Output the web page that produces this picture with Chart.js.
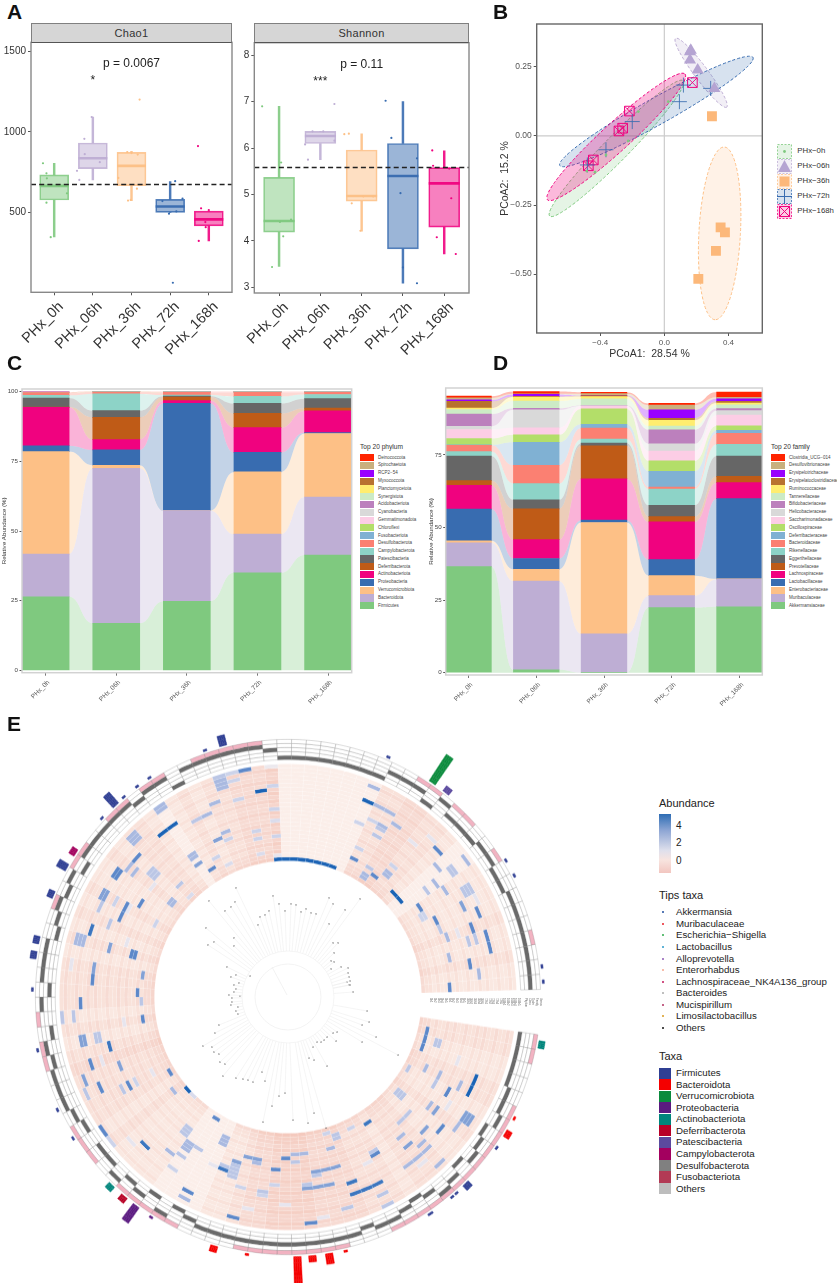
<!DOCTYPE html>
<html>
<head>
<meta charset="utf-8">
<title>PHx microbiome</title>
<script src="https://cdn.jsdelivr.net/npm/chart.js@4"></script>
<style>
  html, body { margin: 0; padding: 0; background: #fff; }
  #stage { position: relative; width: 837px; height: 1283px; overflow: hidden; background: #fff;
           font-family: "Liberation Sans", Arial, sans-serif; color: #222; }
  #stage canvas { position: absolute; }
  .t { position: absolute; white-space: nowrap; line-height: 1; }
  .letter { font-weight: bold; font-size: 21px; color: #111; }
  .strip { position: absolute; background: #d6d6d6; border: 1.5px solid #808080; border-bottom: 1.5px solid #555;
           box-sizing: border-box; text-align: center; font-size: 11px; color: #333; line-height: 19px; letter-spacing: .3px; }
  .box { position: absolute; }
</style>
</head>
<body>
<div id="stage"></div>
<script>
// ---------- panel A ----------
const groupLabels = ['PHx_0h', 'PHx_06h', 'PHx_36h', 'PHx_72h', 'PHx_168h'];
const groupPositions = [1, 2, 3, 4, 5];
const groupColors = ['#7FC97F', '#BEAED4', '#FDC086', '#386CB0', '#F0027F'];

const chaoLow = [351, 703, 575, 502, 326];
const chaoQ1 = [579, 773, 668, 502, 419];
const chaoMedian = [666, 837, 790, 539, 459];
const chaoQ3 = [734, 931, 873, 583, 510];
const chaoHigh = [806, 1092, 880, 692, 510];
const chaoPointX = [.71, .80, .81, .80, .91, 1.33, 1.11, 1.97, 1.78, 1.79, 2.18, 1.59, 1.65, 3.21, 2.89, 3.0, 3.16, 2.66, 3.14, 2.91, 2.98, 4.13, 3.80, 4.32, 4.16, 3.97, 4.07, 4.72, 4.80, 5.0, 4.91, 4.92, 4.74];
const chaoPointY = [806, 744, 713, 562, 349, 620, 666, 1092, 957, 862, 813, 759, 703, 1200, 875, 869, 860, 715, 649, 575, 579, 695, 572, 587, 508, 494, 67, 912, 527, 517, 442, 411, 326];
const chaoMean = 674;
const chaoTicks = [500, 1000, 1500];

const shannonLow = [3.45, 5.75, 4.21, 3.09, 3.72];
const shannonQ1 = [4.19, 6.10, 4.86, 3.83, 4.30];
const shannonMedian = [4.43, 6.26, 4.97, 5.40, 5.24];
const shannonQ3 = [5.37, 6.36, 5.96, 6.10, 5.58];
const shannonHigh = [6.90, 6.36, 6.31, 7.0, 5.94];
const shannonPointX = [.59, 1.05, .83, 1.10, 1.02, 1.29, 2.34, 1.81, 2.07, 1.63, 2.34, 1.70, 2.58, 2.69, 2.76, 2.97, 3.04, 3.28, 3.58, 3.72, 4.34, 3.94, 4.0, 4.34, 4.71, 4.73, 5.12, 5.17, 4.82, 5.28];
const shannonPointY = [6.90, 5.69, 3.44, 4.10, 4.41, 4.46, 6.95, 6.36, 6.36, 6.08, 6.16, 5.75, 6.30, 6.31, 4.81, 4.22, 4.96, 4.96, 7.02, 6.22, 5.78, 5.03, 3.43, 3.09, 5.95, 5.62, 5.56, 4.92, 4.08, 3.72];
const shannonMean = 5.58;
const shannonTicks = [3, 4, 5, 6, 7, 8];

// ---------- panel B ----------
const pcoaGroups = ['PHx\u22120h', 'PHx\u221206h', 'PHx\u221236h', 'PHx\u221272h', 'PHx\u2212168h'];
const pcoa0hX = [-.162, -.225, -.364, -.432, -.484, .025];
const pcoa0hY = [.088, -.018, -.069, -.131, -.127, .124];
const pcoa06hX = [.16, .16, .208, .312, .165];
const pcoa06hY = [.305, .275, .239, .172, .31];
const pcoa36hX = [.297, .351, .378, .322, .212];
const pcoa36hY = [.071, -.331, -.349, -.416, -.517];
const pcoa72hX = [.094, .119, .289, -.2, -.364, -.48];
const pcoa72hY = [.124, .184, .172, .052, -.05, -.105];
const pcoa168hX = [.175, -.218, -.26, -.283, -.443, -.474];
const pcoa168hY = [.193, .09, .028, .018, -.087, -.108];
// major axis ends of each confidence ellipse, and minor/major ratio
const ellipseX1 = [-.715, .07, .374, -.652, -.729];
const ellipseY1 = [-.29, .353, -.04, -.107, -.231];
const ellipseX2 = [.118, .389, .316, .553, .129];
const ellipseY2 = [.2, .104, -.665, .284, .224];
const ellipseRatio = [.13, .16, .24, .12, .15];

// ---------- panel C ----------
const phylumNames = ['Firmicutes', 'Bacteroidota', 'Verrucomicrobiota', 'Proteobacteria', 'Actinobacteriota', 'Deferribacterota', 'Patescibacteria', 'Campylobacterota', 'Desulfobacterota', 'Fusobacteriota', 'Chloroflexi', 'Gemmatimonadota', 'Cyanobacteria', 'Acidobacteriota', 'Synergistota', 'Planctomycetota', 'Myxococcota', 'RCP2\u221254', 'Spirochaetota', 'Deinococcota'];
const stackColors = ['#7FC97F', '#BEAED4', '#FDC086', '#386CB0', '#F0027F', '#BF5B17', '#666666', '#8DD3C7', '#FB8072', '#80B1D3', '#B3DE69', '#FCCDE5', '#D9D9D9', '#BC80BD', '#CCEBC5', '#FFED6F', '#B8722F', '#9900FF', '#C9B07E', '#FF2400'];
const phylum0h = [26.4, 15.3, 36.8, 2.1, 13.8, .1, 3.2, 1.0, 1.0, .02, .02, .02, .01, .01, .01, .01, .01, .01, .01, .01];
const phylum06h = [16.9, 55.6, 1.1, 5.5, 3.7, 8.0, 2.4, 6.0, .7, .02, .02, .01, .01, .01, .01, .01, .01, .01, .01, .01];
const phylum36h = [24.8, 32.5, 0, 38.5, 1.0, 1.3, .3, .4, 1.0, .02, .02, .02, .01, .01, .01, .01, .01, .01, .01, .01];
const phylum72h = [35, 13.9, 22.3, 7.0, 8.9, 5.1, 3.6, 2.5, 1.5, .02, .02, .02, .01, .01, .01, .01, .01, .01, .01, .01];
const phylum168h = [41.4, 20.8, 22.8, .3, 7.8, 1.0, 3.4, 1.5, .8, .02, .02, .02, .01, .01, .01, .01, .01, .01, .01, .01];
const phylumColumns = [phylum0h, phylum06h, phylum36h, phylum72h, phylum168h];

// ---------- panel D ----------
const familyNames = ['Akkermansiaceae', 'Muribaculaceae', 'Enterobacteriaceae', 'Lactobacillaceae', 'Lachnospiraceae', 'Prevotellaceae', 'Eggerthellaceae', 'Rikenellaceae', 'Bacteroidaceae', 'Deferribacteraceae', 'Oscillospiraceae', 'Saccharimonadaceae', 'Helicobacteraceae', 'Bifidobacteriaceae', 'Tannerellaceae', 'Ruminococcaceae', 'Erysipelatoclostridiaceae', 'Erysipelotrichaceae', 'Desulfovibrionaceae', 'Clostridia_UCG\u2212014'];
const family0h = [36.5, 8.2, .7, 10.9, 8.2, 1.6, 8.5, 1.5, 2.2, .1, 2.2, 3.1, 1.1, 4.2, 1.6, .5, 2.3, .5, .7, .6];
const family06h = [1.0, 30.5, 4.1, 3.7, 6.5, 10.6, 3.1, 5.6, 6.3, 7.9, 2.6, 2.4, 6.2, .5, 2.5, 1.4, .2, .7, .2, .8];
const family36h = [0, 13.4, 38.3, .8, 14.2, 11.4, .9, 1.4, 3.8, 1.3, 5.3, 1.0, .1, .05, 2.3, .8, .3, .1, .6, .5];
const family72h = [22.4, 4.1, 6.9, 5.5, 13, 1.8, 3.9, 5.6, .7, 5.4, 3.6, 3.4, 2.5, 4.8, 1.3, 2.0, .7, 2.9, 1.6, .6];
const family168h = [22.7, 9.5, .1, 27.6, 5.5, 2.2, 7.0, 4.0, 3.8, 1.0, 1.6, 3.7, 1.5, .7, 1.3, .6, .6, .9, .5, 1.8];
const familyColumns = [family0h, family06h, family36h, family72h, family168h];

// ---------- panel E ----------
const tipsNames = ['Akkermansia', 'Muribaculaceae', 'Escherichia\u2212Shigella', 'Lactobacillus', 'Alloprevotella', 'Enterorhabdus', 'Lachnospiraceae_NK4A136_group', 'Bacteroides', 'Mucispirillum', 'Limosilactobacillus', 'Others'];
const tipsColors = ['#1F4E9E', '#E8202A', '#2EAA4A', '#2B9AC9', '#8E5BB5', '#F5A78F', '#C2185B', '#AAAAAA', '#B03060', '#D99A1E', '#111111'];
const taxaNames = ['Firmicutes', 'Bacteroidota', 'Verrucomicrobiota', 'Proteobacteria', 'Actinobacteriota', 'Deferribacterota', 'Patescibacteria', 'Campylobacterota', 'Desulfobacterota', 'Fusobacteriota', 'Others'];
const taxaColors = ['#2F3F93', '#F40000', '#0A8A3C', '#5A1A80', '#00857C', '#B80027', '#5B4A9E', '#A3005F', '#808080', '#B23A55', '#BDBDBD'];
const abundanceTicks = ['4', '2', '0'];

const tipCount = 104;
const heatRows = 25;
// pale pink per tip, digits read from the ring, starting below the gap and going clockwise
const tipShade = '332233223223' + '3323334444555' + '544322' + '1111222' + '2323333432323' + '3332323232' + '2323321' + '232334445' + '11111111' + '3344332' + '112222322322';
const rowShade = [2, 1, 1, 0, 1, 0, 0, 1, 0, 1, 0, 0, 1, 0, 0, 1, 0, 1, 0, 0, 1, 0, 0, 1, 0];
// [clock angle of the tip, row from the inside, abundance level, tips wide, rows deep]
const heatCells = [
  [-3, 0, 5, 8], [351.7, 18, 5], [23.4, 23, 3], [23.2, 19, 5], [27, 19, 3], [30, 19, 3], [23.3, 13, 2], [26.9, 15, 2], [30, 15, 3], [30, 14, 2.5],
  [33.7, 17, 3], [30.3, 12, 2.5], [26.9, 7, 2], [26.7, 4, 4], [33.8, 1, 3, 1, 2], [37.3, 3, 4], [33.8, 4, 2.5], [40.7, 5, 3, 1, 2], [40.4, 8, 2],
  [46, 3, 5, 2], [54.8, 6, 4], [58.5, 5, 2, 1, 2], [61.8, 8, 4], [51.4, 13, 3], [51.2, 16, 3], [54.7, 14, 3], [54.6, 10, 2.5], [47.5, 19, 4],
  [51.3, 18, 2.5, 1, 2], [51.3, 23, 3], [58.4, 18, 2.5, 1, 3], [61.8, 16, 3.5], [65.4, 19, 4], [69, 16, 4], [69, 9, 3], [65, 8, 2.5], [73, 19, 4, 2],
  [79.3, 13, 4], [75.8, 8, 3], [82.2, 15, 3], [72.5, 14, 2.5], [72, 16, 2.5], [86, 7, 4],
  [355, 24, .5], [355, 19, 2], [355, 13, 2], [355, 10, 1.5], [355, 6, 2], [355, 1, 1], [348.3, 8, 2], [348.3, 6, 2], [349, 2, 1.5],
  [321.7, 18, 5, 2], [316.7, 21, 3, 1, 3], [313.2, 18, 4], [306, 19, 4, 1, 2], [309.7, 18, 3], [309.6, 16, 3], [313.3, 11, 2.5, 1, 3], [302.8, 10, 4],
  [309.8, 3, 3, 1, 2], [316.5, 5, 2.5], [316.7, 1, 1.5], [299, 19, 3.5, 1, 2], [299.4, 16, 2], [296, 19, 2.5], [294, 13, 4, 2], [292.4, 15, 2.5],
  [289, 19, 4.5], [285.6, 20, 3, 1, 3], [285.4, 13, 3.5], [284, 6, 4, 1, 2], [278.6, 16, 3.5], [278.7, 3, 3.5], [299.7, 4, 2],
  [342, 24, 2.5], [341, 21, 3, 1, 3], [345, 24, 2], [348.3, 24, 4], [345, 22, 2], [337.7, 18, 3], [334, 16, 3], [330.6, 16, 2.5], [327, 23, 3, 1, 2], [345, 17, 2],
  [337.6, 10, 3], [337.5, 8, 2], [334, 9, 3.5], [327, 8, 3, 1, 2], [327, 6, 3.5], [330.7, 5, 2], [330.5, 3, 4], [334, 2, 1.5],
  [271.7, 4, 4], [268.1, 19, 4], [267, 3, 2.5], [261.5, 3, 4], [264.7, 24, 2.5, 1, 1], [264.7, 21, 2.5], [275, 16, 4], [257.6, 19, 3.5, 1, 2], [257.8, 15, 2.5, 1, 2],
  [254.4, 13, 4.5], [251, 19, 4], [247.5, 12, 3.5], [247.5, 22, 3.5], [244, 19, 4], [244, 23, 2.5], [240.5, 12, 4], [237.2, 1, 4], [230, 3, 3], [226.5, 0, 5],
  [223, 0, 1.5], [233.4, 24, 4], [230, 24, 2], [240.7, 10, 2], [240.6, 14, 2.5], [212.7, 1, 4], [219.4, 7, 2.5, 1, 3], [205.7, 4, 3, 1, 3], [216, 10, 3, 1, 3],
  [212.7, 10, 2.5], [223, 18, 4.5], [219.5, 15, 3], [216, 14, 2.5], [216, 18, 2], [202, 12, 4.5], [198.4, 10, 2.5, 1, 4], [198.5, 9, 3.5], [202, 11, 2.5],
  [209, 21, 4], [209, 23, 3], [195, 23, 4], [195, 15, 2],
  [103.2, 2, 4, 3], [106.8, 5, 2.5, 1, 2], [113.8, 18, 5, 2], [121, 1, 2.5], [117.4, 5, 3], [117.4, 9, 3], [121, 9, 2.5], [121, 13, 4], [117.2, 15, 3],
  [131.5, 2, 2.5, 1, 3], [128, 11, 3], [128, 13, 3.5], [124, 20, 3.5, 1, 3], [127.3, 20, 3], [131.5, 17, 4], [135, 14, 3.5], [133, 8, 2.5, 2], [145.6, 3, 4.5],
  [142, 14, 3.5], [138, 16, 3], [136.8, 18, 3, 3], [149, 11, 4], [149, 10, 2.5], [142, 11, 3], [138.3, 23, 3], [159.7, 2, 2.5, 1, 2], [163.4, 5, 3], [152.5, 2, 2], [163.4, 1, 2],
  [189.7, 7, 3.5, 2], [191.7, 8, 3], [184.5, 9, 4], [181, 6, 4], [177.2, 5, 3], [173.9, 5, 3], [177.4, 7, 2.5], [165, 10, 3.5, 3], [168.5, 14, 3.5, 3], [159.6, 15, 4.5],
  [154.7, 18, 4.5, 3], [152.7, 21, 2.5], [152.8, 24, 2.5], [173.6, 23, 4], [163.3, 21, 2.5], [188.3, 15, 2.5], [188.3, 16, 2], [184.5, 13, 2], [173.8, 13, 2.5], [170.3, 11, 2.5],
  [205, 12, 1], [290, 9, 1], [300, 12, 1], [260, 8, 1], [250, 16, 1], [240, 5, 1], [228, 20, 1], [110, 12, 1], [125, 15, 1], [140, 20, 1], [155, 12, 1], [170, 22, 1], [180, 18, 1], [190, 20, 1], [70, 12, 1], [62, 20, 1], [44, 20, 1], [38, 16, 1], [310, 10, 1], [280, 22, 1]
];
// dark cell of the taxa grid: its row from the inside, one digit per tip
const gridRows = '0000112012' + '0231012' + '2122222' + '2222222' + '1030213114' + '1233323143' + '1333123231' + '3333323303' + '333332' + '00000000' + '2220311122' + '112222222';
// clock angle ranges of the pink cells in the outer grid row
const gridPink = [[98.5, 103], [116, 120], [124, 128], [129, 137], [140, 144], [146, 156], [168, 192], [206, 222], [231, 238], [255, 260], [263, 267], [290, 294], [301, 305], [315, 319], [325, 329], [338, 346], [349, 352], [32, 37], [42, 47], [54, 58], [74, 78]];
// outer taxa bars: [clock angle, length, index in taxaNames]
const taxaBars = [
  [33.9, 30, 2], [37.4, 6, 6], [23, 1, 0], [344.8, 7, 0], [316.7, 13, 0], [302.8, 6, 7], [299.3, 8, 0], [292.4, 6, 0], [282, 5, 0], [278.6, 5, 0],
  [341, 1, 0], [327, 1, 0], [323.7, 1, 0], [320, 1, 0], [313, 1, 0], [271.5, 2, 0], [257.8, 2, 0], [243.9, 2, 0], [237, 2, 0], [223, 5, 4], [219.5, 6, 5], [216, 18, 3], [212.3, 1, 3],
  [177.3, 26, 1], [173.8, 6, 1], [170, 8, 1], [166.7, 2, 1], [196, 4, 1], [189, 1, 1], [135, 5, 0], [138.5, 1, 0], [145.5, 2, 0], [121, 5, 1], [117.7, 1, 1], [125, 2, 0],
  [99.8, 6, 4], [83, 2, 0], [86.4, 2, 0], [62, 1, 0], [58.3, 1, 0], [146, 1, 0], [140, 1, 0]
];
// tree tips as read from the centre of the ring
const treeTipX = [-52, -79, -53, -57, -63, -82, -74, -80, -54, -54, -61, -57, -52, -38, -49, -54, -52, -54, -59, -56, -48, -56, -57, -50, -52, -50, -69, -73, -85, -76, -74, -69, -68, -63, -65, -52, -45, -40, -35, -26, -23, -15, -28, -23, -19, -30, -9, -3, 3, 8, 13, 18, 23, 28, 41, 45, 57, 41, 45, 50, 46, 43, 46, 43, 53, 60, 60, 61, 59, 61, 62, 62, 65, 79, 81, 74, 88, 74, 110, 49, 45, 39, 36, 33, 29, 48, 25, 21, 26, 39, -9, -3, -16, -25, 5, 20, 26, 38, 72];
const treeTipY = [109, 96, 95, 90, 86, 69, 55, 52, 59, 51, 30, 20, 22, 21, 14, 12, 8, 5, 2, -1, 1, -5, -8, -10, -14, -17, -28, -36, -49, -50, -55, -57, -65, -67, -79, -81, -82, -83, -85, -75, -84, 101, 80, 82, 86, 72, 93, 86, 93, 92, 85, 88, 84, 83, 99, 93, 87, 73, 54, 54, 44, 36, 35, 28, 30, 29, 24, 20, 15, 12, 16, 12, 5, -14, -25, -28, -40, -45, -58, -35, -36, -40, -43, -45, -45, -44, -50, -61, -63, -69, -99, -96, -109, -125, -123, -126, -116, -131, 98];
const sampleNames = ['0h1', '0h2', '0h3', '0h4', '0h5', '6h1', '6h2', '6h3', '6h4', '6h5', '36h1', '36h2', '36h3', '36h4', '36h5', '72h1', '72h2', '72h3', '72h4', '72h5', '168h1', '168h2', '168h3', '168h4', '168h5', 'Phylum', 'Class', 'Order', 'Family', 'Genus'];

// ---------- helpers ----------
Chart.defaults.font.family = '"Liberation Sans", Arial, sans-serif';
Chart.defaults.animation = false;
Chart.defaults.responsive = false;
Chart.defaults.plugins.legend.display = false;
Chart.defaults.plugins.tooltip.enabled = false;

const stage = document.getElementById('stage');

function addCanvas(left, top, width, height) {
    const c = document.createElement('canvas');
    c.width = width;
    c.height = height;
    c.style.left = left + 'px';
    c.style.top = top + 'px';
    c.style.width = width + 'px';
    c.style.height = height + 'px';
    stage.appendChild(c);
    return c;
}

function addText(text, left, top, size, extra) {
    const d = document.createElement('div');
    d.className = 't';
    d.textContent = text;
    d.style.left = left + 'px';
    d.style.top = top + 'px';
    d.style.fontSize = size + 'px';
    if (extra) Object.assign(d.style, extra);
    stage.appendChild(d);
    return d;
}

function addBox(left, top, width, height, background) {
    const d = document.createElement('div');
    d.className = 'box';
    d.style.left = left + 'px';
    d.style.top = top + 'px';
    d.style.width = width + 'px';
    d.style.height = height + 'px';
    d.style.background = background;
    stage.appendChild(d);
    return d;
}

function rgba(hex, a) {
    const n = parseInt(hex.slice(1), 16);
    return `rgba(${n >> 16},${(n >> 8) & 255},${n & 255},${a})`;
}

function mix(a, b, t) {
    const x = parseInt(a.slice(1), 16), y = parseInt(b.slice(1), 16);
    const c = s => Math.round(((x >> s) & 255) * (1 - t) + ((y >> s) & 255) * t);
    return `rgb(${c(16)},${c(8)},${c(0)})`;
}

function fixedY(width, ticks) {
    return {
        afterFit: s => { s.width = width; s.paddingTop = 0; s.paddingBottom = 0; },
        afterBuildTicks: s => { s.ticks = ticks.map(v => ({ value: v })); }
    };
}

function fixedX(height, ticks) {
    return {
        afterFit: s => { s.height = height; s.paddingLeft = 0; s.paddingRight = 0; },
        afterBuildTicks: s => { s.ticks = ticks.map(v => ({ value: v })); }
    };
}

function framePlugin(color, width) {
    return {
        id: 'frame',
        afterDatasetsDraw(chart) {
            const a = chart.chartArea, ctx = chart.ctx;
            ctx.save();
            ctx.strokeStyle = color;
            ctx.lineWidth = width;
            ctx.strokeRect(a.left, a.top, a.right - a.left, a.bottom - a.top);
            ctx.restore();
        }
    };
}

function textPlugin(marks) {
    return {
        id: 'marks',
        afterDatasetsDraw(chart) {
            const ctx = chart.ctx;
            ctx.save();
            ctx.fillStyle = '#222';
            ctx.textAlign = 'center';
            ctx.textBaseline = 'middle';
            marks.forEach(m => {
                ctx.font = m.font + ' "Liberation Sans", Arial, sans-serif';
                ctx.fillText(m.text, chart.scales.x.getPixelForValue(m.x), chart.scales.y.getPixelForValue(m.y));
            });
            ctx.restore();
        }
    };
}

// ---------- boxplots ----------
function boxChart(left, top, width, height, plot, data) {
    const c = addCanvas(left, top, width, height);
    const pointColor = data.px.map(x => groupColors[Math.min(4, Math.max(0, Math.round(x) - 1))]);
    const xy = (xs, ys) => xs.map((x, i) => ({ x: x, y: ys[i] }));
    new Chart(c, {
        type: 'scatter',
        data: {
            datasets: [
                { type: 'bar', grouped: false, barThickness: 1.8, data: groupPositions.map((x, i) => ({ x: x, y: [data.q3[i], data.high[i]] })), backgroundColor: groupColors.map(k => rgba(k, .9)), order: 5 },
                { type: 'bar', grouped: false, barThickness: 1.8, data: groupPositions.map((x, i) => ({ x: x, y: [data.low[i], data.q1[i]] })), backgroundColor: groupColors.map(k => rgba(k, .9)), order: 5 },
                { type: 'bar', grouped: false, barThickness: plot.boxWidth, data: groupPositions.map((x, i) => ({ x: x, y: [data.q1[i], data.q3[i]] })), backgroundColor: groupColors.map(k => rgba(k, .5)), borderColor: groupColors.map(k => rgba(k, .85)), borderWidth: 1, borderSkipped: false, order: 4 },
                { data: xy(groupPositions, data.median), showLine: false, pointStyle: 'line', pointRadius: plot.boxWidth / 2, pointBorderWidth: 2.6, pointBorderColor: groupColors.map(k => rgba(k, .95)), order: 3 },
                { data: xy(data.px, data.py), showLine: false, pointRadius: 1.1, pointBorderWidth: 0, pointBackgroundColor: pointColor, order: 2 },
                { data: [{ x: .4, y: data.mean }, { x: 5.6, y: data.mean }], showLine: true, pointRadius: 0, borderColor: '#222', borderWidth: 1.5, borderDash: [5, 3.2], order: 1 }
            ]
        },
        options: {
            layout: { padding: plot.padding, autoPadding: false },
            scales: {
                x: Object.assign({
                    type: 'linear', offset: false, min: .4, max: 5.6, grid: { offset: false, drawOnChartArea: false, tickLength: 3, color: '#555' }, border: { display: false },
                    ticks: { autoSkip: false, minRotation: 45, maxRotation: 45, padding: 3, labelOffset: 7, color: '#333', font: { size: 14.5 }, callback: v => groupLabels[v - 1] }
                }, fixedX(plot.xHeight, groupPositions)),
                y: Object.assign({
                    min: plot.yMin, max: plot.yMax, grid: { drawOnChartArea: false, tickLength: 3, color: '#555' }, border: { display: false },
                    ticks: { color: '#333', padding: 2, font: { size: 10 }, callback: v => String(v) }
                }, fixedY(plot.yWidth, plot.ticks))
            }
        },
        plugins: [framePlugin('#888', 1.4), textPlugin(plot.marks)]
    });
}

boxChart(0, 30, 238, 340, { padding: { top: 12.3, right: 6 }, boxWidth: 29, xHeight: 77.7, yWidth: 31, yMin: 8, yMax: 1554, ticks: chaoTicks,
    marks: [{ x: 3, y: 1423, text: 'p = 0.0067', font: '12px' }, { x: 2, y: 1318, text: '*', font: '12px' }] },
    { low: chaoLow, q1: chaoQ1, median: chaoMedian, q3: chaoQ3, high: chaoHigh, px: chaoPointX, py: chaoPointY, mean: chaoMean });
boxChart(232, 30, 243, 340, { padding: { top: 12.7, right: 6 }, boxWidth: 31, xHeight: 77, yWidth: 22.3, yMin: 2.88, yMax: 8.27, ticks: shannonTicks,
    marks: [{ x: 3, y: 7.79, text: 'p = 0.11', font: '12px' }, { x: 2, y: 7.44, text: '***', font: '12px' }] },
    { low: shannonLow, q1: shannonQ1, median: shannonMedian, q3: shannonQ3, high: shannonHigh, px: shannonPointX, py: shannonPointY, mean: shannonMean });

function addStrip(text, left, top, width, height) {
    const d = addBox(left, top, width, height, '#d6d6d6');
    d.className = 'strip';
    d.textContent = text;
}
addStrip('Chao1', 31, 23, 201, 20);
addStrip('Shannon', 254, 23, 215, 20);

// ---------- PCoA ----------
const ellipsePlugin = {
    id: 'ellipses',
    beforeDatasetsDraw(chart) {
        const { x, y } = chart.scales, ctx = chart.ctx;
        ctx.save();
        ctx.strokeStyle = '#ccc';
        ctx.lineWidth = 1.2;
        ctx.beginPath();
        ctx.moveTo(x.getPixelForValue(0), chart.chartArea.top);
        ctx.lineTo(x.getPixelForValue(0), chart.chartArea.bottom);
        ctx.moveTo(chart.chartArea.left, y.getPixelForValue(0));
        ctx.lineTo(chart.chartArea.right, y.getPixelForValue(0));
        ctx.stroke();
        ellipseX1.forEach((v, i) => {
            const ax = x.getPixelForValue(v), ay = y.getPixelForValue(ellipseY1[i]);
            const bx = x.getPixelForValue(ellipseX2[i]), by = y.getPixelForValue(ellipseY2[i]);
            const major = Math.hypot(bx - ax, by - ay) / 2;
            ctx.beginPath();
            ctx.ellipse((ax + bx) / 2, (ay + by) / 2, major, major * ellipseRatio[i], Math.atan2(by - ay, bx - ax), 0, Math.PI * 2);
            ctx.fillStyle = rgba(groupColors[i], i === 4 ? .28 : .2);
            ctx.fill();
            ctx.strokeStyle = groupColors[i];
            ctx.lineWidth = 1;
            ctx.setLineDash([3, 2]);
            ctx.stroke();
            ctx.setLineDash([]);
        });
        ctx.restore();
    }
};

function xyPoints(xs, ys) {
    return xs.map((x, i) => ({ x: x, y: ys[i] }));
}

new Chart(addCanvas(497, 12, 270, 348), {
    type: 'scatter',
    data: {
        datasets: [
            { data: xyPoints(pcoa0hX, pcoa0hY), pointRadius: 1.4, pointBorderWidth: 0, pointBackgroundColor: groupColors[0] },
            { data: xyPoints(pcoa06hX, pcoa06hY), pointStyle: 'triangle', pointRadius: 7, pointBorderWidth: 0, pointBackgroundColor: '#B5A4D2' },
            { data: xyPoints(pcoa36hX, pcoa36hY), pointStyle: 'rect', pointRadius: 7, pointBorderWidth: 0, pointBackgroundColor: '#FCB87A' },
            { data: xyPoints(pcoa72hX, pcoa72hY), pointStyle: 'cross', pointRadius: 7.5, pointBorderWidth: 1, pointBorderColor: rgba('#386CB0', .85) },
            { data: xyPoints(pcoa168hX, pcoa168hY), pointStyle: 'rect', pointRadius: 6.8, pointBorderWidth: 1, pointBorderColor: '#F0027F', pointBackgroundColor: 'transparent' },
            { data: xyPoints(pcoa168hX, pcoa168hY), pointStyle: 'crossRot', pointRadius: 6.8, pointBorderWidth: .9, pointBorderColor: '#F0027F' }
        ]
    },
    options: {
        layout: { padding: { top: 12, right: 4.7 }, autoPadding: false },
        scales: {
            x: Object.assign({
                type: 'linear', min: -.796, max: .611, grid: { drawOnChartArea: false, tickLength: 3, color: '#555' }, border: { display: false },
                title: { display: true, text: 'PCoA1:  28.54 %', color: '#333', font: { size: 10.5 }, padding: { top: 0, bottom: 0 } },
                ticks: { color: '#555', padding: 2, font: { size: 8 }, callback: v => v === 0 ? '0.0' : (v < 0 ? '\u2212' : '') + Math.abs(v).toFixed(1) }
            }, fixedX(27, [-.4, 0, .4])),
            y: Object.assign({
                min: -.713, max: .405, grid: { drawOnChartArea: false, tickLength: 3, color: '#555' }, border: { display: false },
                title: { display: true, text: 'PCoA2:  15.2 %', color: '#333', font: { size: 10.5 }, padding: { top: 2, bottom: 0 } },
                ticks: { color: '#555', padding: 2, font: { size: 8.5 }, callback: v => v === 0 ? '0.00' : (v < 0 ? '\u2212' : '') + Math.abs(v).toFixed(2) }
            }, fixedY(39.7, [-.5, -.25, 0, .25]))
        }
    },
    plugins: [ellipsePlugin, framePlugin('#666', 1.4)]
});

const keySymbols = [
    '<circle cx="7.5" cy="7.5" r="1.4" fill="#7FC97F"/>',
    '<path d="M7.5 1 L14 13 L1 13 Z" fill="#B5A4D2"/>',
    '<rect x="2.5" y="2.5" width="10" height="10" fill="#FCB87A"/>',
    '<path d="M7.5 0 V15 M0 7.5 H15" stroke="#386CB0" stroke-width="1"/>',
    '<rect x="2.5" y="2.5" width="10" height="10" fill="none" stroke="#F0027F"/><path d="M2.5 2.5 L12.5 12.5 M12.5 2.5 L2.5 12.5" stroke="#F0027F"/>'
];
pcoaGroups.forEach((name, i) => {
    const y = 151 + i * 15.1;
    const d = addBox(777, y - 7.5, 15, 15, 'transparent');
    d.innerHTML = `<svg width="15" height="15" xmlns="http://www.w3.org/2000/svg"><rect x=".5" y=".5" width="14" height="14" fill="${rgba(groupColors[i], .2)}" stroke="${groupColors[i]}" stroke-dasharray="2 1.5" stroke-width=".8"/>${keySymbols[i]}</svg>`;
    addText(name, 797.3, y - 4.3, 7.8, { color: '#333' });
});

// ---------- stacked columns with flows ----------
function flowPlugin(columns, barWidth) {
    return {
        id: 'flows',
        beforeDatasetsDraw(chart) {
            const { x, y } = chart.scales, ctx = chart.ctx;
            const base = columns.map(() => 0);
            ctx.save();
            columns[0].forEach((_, k) => {
                ctx.fillStyle = rgba(stackColors[k], .3);
                for (let c = 0; c < columns.length - 1; c++) {
                    const x0 = x.getPixelForValue(c + 1) + barWidth / 2, x1 = x.getPixelForValue(c + 2) - barWidth / 2, m = (x0 + x1) / 2;
                    const a0 = y.getPixelForValue(base[c]), a1 = y.getPixelForValue(base[c] + columns[c][k]);
                    const b0 = y.getPixelForValue(base[c + 1]), b1 = y.getPixelForValue(base[c + 1] + columns[c + 1][k]);
                    ctx.beginPath();
                    ctx.moveTo(x0, a1);
                    ctx.bezierCurveTo(m, a1, m, b1, x1, b1);
                    ctx.lineTo(x1, b0);
                    ctx.bezierCurveTo(m, b0, m, a0, x0, a0);
                    ctx.closePath();
                    ctx.fill();
                }
                columns.forEach((col, c) => { base[c] += col[k]; });
            });
            ctx.restore();
        }
    };
}

function stackChart(left, top, width, height, plot, columns) {
    new Chart(addCanvas(left, top, width, height), {
        type: 'bar',
        data: {
            datasets: columns[0].map((_, k) => ({
                data: columns.map((col, c) => ({ x: c + 1, y: col[k] })),
                backgroundColor: stackColors[k],
                barThickness: plot.barWidth
            }))
        },
        options: {
            layout: { padding: plot.padding, autoPadding: false },
            scales: {
                x: Object.assign({
                    type: 'linear', offset: false, stacked: true, min: plot.xMin, max: plot.xMax, grid: { offset: false, drawOnChartArea: false, tickLength: 3, color: '#777' }, border: { display: false },
                    ticks: { autoSkip: false, minRotation: 45, maxRotation: 45, padding: 3, labelOffset: 3, color: '#555', font: { size: 6.5 }, callback: v => groupLabels[v - 1] }
                }, fixedX(plot.xHeight, groupPositions)),
                y: Object.assign({
                    stacked: true, min: plot.yMin, max: plot.yMax, grid: { drawOnChartArea: false, tickLength: 2.5, color: '#555' }, border: { display: false },
                    title: { display: true, text: 'Relative Abundance (%)', color: '#333', font: { size: 6.2 }, padding: { top: 0, bottom: 0 } },
                    ticks: { color: '#444', padding: 1.5, font: { size: 6.2 } }
                }, fixedY(plot.yWidth, plot.ticks))
            }
        },
        plugins: [flowPlugin(columns, plot.barWidth), framePlugin('#d2d2d2', 1.5)]
    });
}

stackChart(1, 380, 352, 340, { padding: { top: 9, right: 1.3 }, barWidth: 47, xMin: .665, xMax: 5.335, xHeight: 47.3, yWidth: 21, yMin: -.86, yMax: 100.97, ticks: [0, 25, 50, 75, 100] }, phylumColumns);
stackChart(428, 380, 337, 340, { padding: { top: 8, right: 2.7 }, barWidth: 45.7, xMin: .663, xMax: 5.337, xHeight: 45, yWidth: 17.7, yMin: -.8, yMax: 98, ticks: [0, 25, 50, 75] }, familyColumns);

function stackLegend(title, names, left, labelLeft) {
    addText(title, left, 444, 6.6, { color: '#333' });
    names.slice().reverse().forEach((name, i) => {
        const idx = names.length - 1 - i;
        addBox(left, 454.2 + i * 7.79, 14, 7.2, stackColors[idx]);
        addText(name, labelLeft, 455.6 + i * 7.79, 4.5, { color: '#444' });
    });
}
stackLegend('Top 20 phylum', phylumNames, 360, 378);
stackLegend('Top 20 family', familyNames, 771, 789);

// ---------- circular heatmap ----------
const blueStops = ['#e7e5ee', '#ccd3ea', '#a9b9e0', '#5d88c9', '#1b63b5'];
const sectorDeg = 3.364, ringStart = 98.4;

function tipIndex(angle) {
    return Math.floor((((angle - ringStart) % 360 + 360) % 360) / sectorDeg);
}

function heatColor(level) {
    if (level < .9) return mix('#f4f0f1', '#e4e2ea', level);
    const t = Math.min(4, Math.max(0, level - 1));
    const a = Math.min(3, Math.floor(t));
    return mix(blueStops[a], blueStops[a + 1], t - a);
}

function pinkColor(s, r) {
    const d = Number(tipShade[s]);
    const p = d < 2 ? d : d + rowShade[r];
    return mix('#fcf4f0', '#f4c9bd', p / 7);
}

const slots = tipCount + 3; // three empty tips make the gap on the right
const hotLookup = {};
heatCells.forEach(([angle, row, level, wide, deep]) => {
    const s0 = tipIndex(angle);
    for (let s = s0; s < s0 + (wide || 1); s++) {
        for (let r = row; r < row + (deep || 1) && r < heatRows; r++) {
            if (s < tipCount) hotLookup[s + '_' + r] = level;
        }
    }
});
const pinkLookup = {};
gridPink.forEach(([a, b]) => {
    for (let s = tipIndex(a + .8); s <= tipIndex(b - .8); s++) pinkLookup[s] = true;
});

const ringData = [];
const blankRing = weight => ({ data: new Array(4).fill(1), weight: weight, backgroundColor: 'transparent', borderWidth: 0 });

// outer bars: eight thin rings cut into eighths of a tip
const barSlots = slots * 8;
for (let ring = 7; ring >= 0; ring--) {
    const lower = ring === 0 ? 0 : 2 + 4 * (ring - 1);
    const colors = new Array(barSlots).fill('transparent');
    taxaBars.forEach(([angle, len, k]) => {
        if (len > lower) {
            const q = Math.floor((((angle - ringStart) % 360 + 360) % 360) / (sectorDeg / 8));
            const wide = len <= 2 ? 2 : 4;
            for (let n = 0; n < wide; n++) colors[(q + n) % barSlots] = taxaColors[k];
        }
    });
    ringData.push({ data: new Array(barSlots).fill(1), weight: ring === 0 ? 2 : 4, backgroundColor: colors, borderColor: colors, borderWidth: .4 });
}
ringData.push(blankRing(2));

// taxa grid
for (let row = 4; row >= 0; row--) {
    const colors = [], borders = [];
    for (let s = 0; s < slots; s++) {
        if (s >= tipCount) { colors.push('transparent'); borders.push('transparent'); continue; }
        let k = '#ffffff';
        if (Number(gridRows[s]) === row) k = '#6a6a6a';
        if (row === 4 && pinkLookup[s]) k = '#f2b3c2';
        colors.push(k);
        borders.push('#6e6e6e');
    }
    ringData.push({ data: new Array(slots).fill(1), weight: 3.8, backgroundColor: colors, borderColor: borders, borderWidth: .25 });
}
ringData.push(blankRing(4));

// heat rows, outermost first
for (let r = heatRows - 1; r >= 0; r--) {
    const colors = [], borders = [];
    for (let s = 0; s < slots; s++) {
        if (s >= tipCount) { colors.push('transparent'); borders.push('transparent'); continue; }
        const level = hotLookup[s + '_' + r];
        colors.push(level === undefined ? pinkColor(s, r) : heatColor(level));
        borders.push('rgba(255,255,255,.35)');
    }
    ringData.push({ data: new Array(slots).fill(1), weight: 3.64, backgroundColor: colors, borderColor: borders, borderWidth: .3 });
}

const ringCanvas = addCanvas(-12, 697, 600, 600);
ringCanvas.style.transform = 'scaleY(1.02)';
new Chart(ringCanvas, {
    type: 'doughnut',
    data: { datasets: ringData },
    options: { radius: 286, cutout: 140, rotation: ringStart, circumference: 360 }
});

// tree in the middle of the ring
const treeBranches = [];
treeTipX.forEach((x, i) => {
    const y = treeTipY[i], d = Math.hypot(x, y);
    treeBranches.push({ x: x, y: y }, { x: x * 46 / d, y: y * 46 / d }, { x: null, y: null });
});
new Chart(addCanvas(138, 847, 300, 300), {
    type: 'scatter',
    data: {
        datasets: [
            { data: treeBranches, showLine: true, spanGaps: false, pointRadius: 0, borderColor: '#efefef', borderWidth: .6 },
            { data: [{ x: -16, y: 30 }, { x: -1, y: 2 }], showLine: true, pointRadius: 0, borderColor: '#ededed', borderWidth: .7 },
            { data: [{ x: 0, y: 0 }], pointRadius: 33, pointBorderColor: '#f0f0f0', pointBorderWidth: .8, pointBackgroundColor: 'transparent' },
            { data: [{ x: 0, y: 0 }], pointRadius: 46, pointBorderColor: '#f2f2f2', pointBorderWidth: .8, pointBackgroundColor: 'transparent' },
            { data: xyPoints(treeTipX, treeTipY), pointRadius: .7, pointBorderWidth: 0, pointBackgroundColor: '#555' }
        ]
    },
    options: {
        layout: { autoPadding: false },
        scales: {
            x: { type: 'linear', min: -150, max: 150, display: false },
            y: { min: -150, max: 150, display: false }
        }
    }
});

// tiny sample names in the gap
sampleNames.forEach((name, i) => {
    const x = i < heatRows ? 428 + (i + .2) * 3.64 : 523 + (i - heatRows) * 3.8;
    addText(name, x, 997.5, 2.7, { writingMode: 'vertical-rl', color: '#666' });
});

// ---------- legends of panel E ----------
addText('Abundance', 659, 798, 11);
addBox(659, 814, 12, 59, 'linear-gradient(to bottom, #2E6DB4 0%, #8ea6d4 28%, #dfe0ec 62%, #f8e4df 78%, #f2c6c0 100%)');
abundanceTicks.forEach((t, i) => addText(t, 676, 821 + i * 17.3, 10));

addText('Tips taxa', 659, 890, 11);
tipsNames.forEach((name, i) => {
    const y = 912.3 + i * 11.57;
    const dot = addBox(662, y - 1, 2, 2, tipsColors[i]);
    dot.style.borderRadius = '50%';
    addText(name, 676, y - 5, 9.7);
});

addText('Taxa', 659, 1051, 11);
taxaNames.forEach((name, i) => {
    const y = 1073.3 + i * 11.53;
    addBox(659, y - 5.6, 12, 11.1, taxaColors[i]);
    addText(name, 676, y - 5, 9.7);
});

// ---------- panel letters ----------
[['A', 7, 1], ['B', 493, 1], ['C', 7, 352], ['D', 493, 352], ['E', 7, 713]].forEach(([t, x, y]) => {
    addText(t, x, y, 21).classList.add('letter');
});
</script>
</body>
</html>
